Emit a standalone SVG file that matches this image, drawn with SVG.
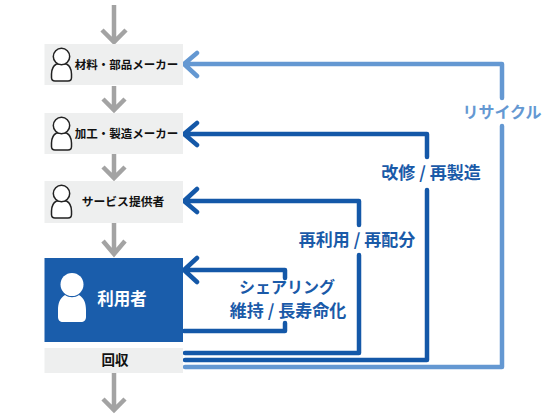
<svg xmlns="http://www.w3.org/2000/svg" width="560" height="420" viewBox="0 0 560 420">
<style>
text{font-family:"Noto Sans CJK JP","Noto Sans",sans-serif;text-anchor:middle}
.box{fill:#eeefef}
.label{font-size:11.500px;font-weight:700;fill:#111}
.flow{font-size:17px;font-weight:700;fill:#1a5aa8}
.kana{font-size:16px}
.gray{fill:none;stroke:#a3a3a3;stroke-width:4.500}
.dark{fill:none;stroke:#1458a8;stroke-width:4.500;stroke-linejoin:round;stroke-linecap:round}
.light{fill:none;stroke:#6498d2;stroke-width:4.500;stroke-linejoin:round;stroke-linecap:round}
.person{fill:#fff;stroke:#222;stroke-width:1.500}
</style>
<defs>
<g id="p"><path d="M-5 0C-8.500 2-10 6-10 10V13.500C-10 15.500-8.500 17-6.500 17H6.500C8.500 17 10 15.500 10 13.500V10C10 6 8.500 2 5 0Z" class="person"/><circle cx="0" cy="-7.500" r="8.200" class="person"/></g>
</defs>
<g id="connectors">
<path class="gray" d="M114 5V41M102 30L114 42L126 30"/>
<path class="gray" d="M114 86V110M103 99L114 110L125 99"/>
<path class="gray" d="M114 154V178M103 167L114 178L125 167"/>
<path class="gray" d="M114 223V254M103 241L114 254L125 241"/>
<path class="gray" d="M114 373V409M103 399L114 410L125 399"/>
<path class="light" d="M184 64H502V98M502 126V367H185M197 53L184 64L197 76"/>
<path class="dark" d="M184 134H427V157M427 190V360H185M197 123L184 134L197 145"/>
<path class="dark" d="M184 201H359V225M359 255V353H185M197 189L184 201L197 212"/>
<path class="dark" d="M184 270H285V278M197 258L184 270L197 282"/>
<path class="dark" d="M184 331H285V323"/>
</g>
<g id="node-material"><rect class="box" x="44.500" y="44" width="138.500" height="41"/><use href="#p" x="61.500" y="64"/><text class="label" x="126.500" y="69">材料・部品メーカー</text></g>
<g id="node-process"><rect class="box" x="44.500" y="113" width="138.500" height="41"/><use href="#p" x="61.500" y="133"/><text class="label" x="126.500" y="138">加工・製造メーカー</text></g>
<g id="node-service"><rect class="box" x="44.500" y="181" width="138.500" height="42"/><use href="#p" x="61.500" y="201"/><text class="label" x="123" y="206" style="font-size:11.800px">サービス提供者</text></g>
<g id="node-user"><rect x="44.500" y="258" width="138.500" height="84" fill="#1a5dab"/><circle cx="72" cy="284.500" r="11.500" fill="#fff"/><path d="M65 295C60 298 58 303 58 310V317C58 320 60 322 63 322H81C84 322 86 320 86 317V310C86 303 84 298 79 295C75 298 69 298 65 295Z" fill="#fff"/><text x="122" y="305" font-size="16.500" font-weight="700" fill="#fff">利用者</text></g>
<g id="node-collect"><rect class="box" x="44.500" y="348" width="138.500" height="25"/><text class="label" x="115" y="365" style="font-size:13.500px">回収</text></g>
<text class="flow kana" x="287" y="293">シェアリング</text>
<text class="flow" x="288" y="317">維持 / 長寿命化</text>
<text class="flow" x="357" y="246">再利用 / 再配分</text>
<text class="flow" x="431" y="179">改修 / 再製造</text>
<text class="flow kana" x="502" y="118" style="fill:#6498d2">リサイクル</text>
</svg>
